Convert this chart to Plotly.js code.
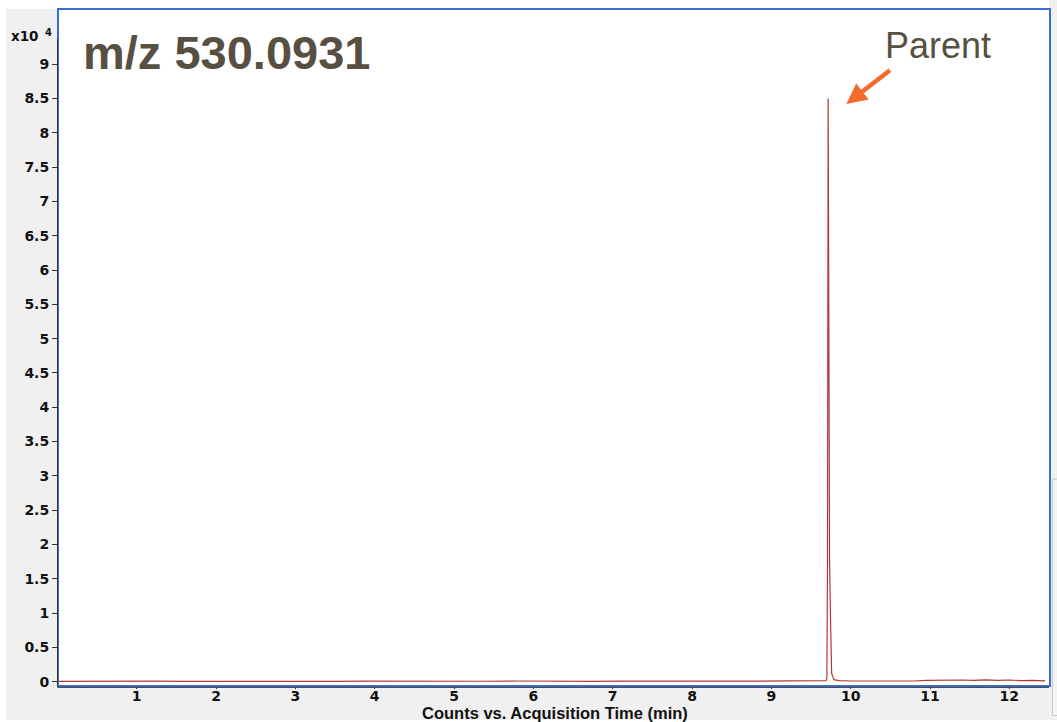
<!DOCTYPE html>
<html>
<head>
<meta charset="utf-8">
<script src="https://cdn.plot.ly/plotly-3.0.1.min.js"></script>
<style>
  html, body { margin: 0; padding: 0; background: #ffffff; }
  #chart { width: 1057px; height: 722px; }
</style>
</head>
<body>
<div id="chart"></div>
<script>
// Extracted ion chromatogram, m/z 530.0931
// Acquisition time (min)
const acqTime = [
  0.02, 0.35, 0.65, 0.72, 1.0, 1.25, 1.6, 2.0, 2.15, 2.5, 2.78, 3.1, 3.5, 3.9,
  4.3, 4.6, 5.0, 5.35, 5.8, 6.05, 6.4, 6.75, 7.1, 7.45, 7.7, 7.95, 8.3, 8.6,
  8.9, 9.2, 9.45, 9.62, 9.69, 9.700, 9.708, 9.716, 9.724, 9.734, 9.746, 9.760,
  9.790, 9.85, 10.0, 10.25, 10.5, 10.8, 10.95, 11.1, 11.25, 11.4, 11.55, 11.7,
  11.85, 12.0, 12.15, 12.3, 12.45
];
// Counts (x10^4)
const counts = [
  0.004, 0.006, 0.010, 0.008, 0.005, 0.009, 0.004, 0.006, 0.010, 0.005, 0.009,
  0.004, 0.006, 0.008, 0.005, 0.006, 0.004, 0.007, 0.010, 0.006, 0.009, 0.005,
  0.008, 0.006, 0.009, 0.012, 0.007, 0.010, 0.008, 0.011, 0.009, 0.010, 0.015,
  0.05, 1.8, 8.5, 5.3, 1.75, 0.9, 0.12, 0.03, 0.015, 0.010, 0.008, 0.012, 0.010,
  0.018, 0.022, 0.015, 0.025, 0.018, 0.028, 0.020, 0.025, 0.015, 0.020, 0.012
];

const xTicks = [1, 2, 3, 4, 5, 6, 7, 8, 9, 10, 11, 12];
const yTicks = [0, 0.5, 1, 1.5, 2, 2.5, 3, 3.5, 4, 4.5, 5, 5.5, 6, 6.5, 7, 7.5, 8, 8.5, 9];
const yTickText = yTicks.map(v => String(v));

const chartTitle = 'm/z 530.0931';
const peakLabel = 'Parent';
const peakTime = 9.716;
const peakCount = 8.5;
const xTitle = 'Counts vs. Acquisition Time (min)';
const scaleBase = 'x10';
const scaleExp = '4';

const tickFont = { family: 'DejaVu Sans, Verdana, sans-serif', size: 14, color: '#111111', weight: 'bold' };
const frameBlue = '#3a6fd0';

const trace = {
  x: acqTime,
  y: counts,
  type: 'scatter',
  mode: 'lines',
  line: { color: '#b43838', width: 1.2 },
  hoverinfo: 'x+y'
};

const layout = {
  width: 1057,
  height: 722,
  margin: { l: 59, r: 8, t: 10, b: 37 },
  paper_bgcolor: '#f0f0f0',
  plot_bgcolor: '#ffffff',
  showlegend: false,
  xaxis: {
    range: [0.02, 12.5],
    tickvals: xTicks,
    ticktext: xTicks.map(String),
    ticks: 'outside',
    ticklen: 2,
    ticklabelstandoff: -5,
    tickcolor: '#333333',
    tickfont: tickFont,
    showgrid: false,
    zeroline: false,
    showline: true,
    linecolor: frameBlue,
    linewidth: 2,
    mirror: true
  },
  yaxis: {
    range: [-0.048, 9.79],
    tickvals: yTicks,
    ticktext: yTickText,
    ticks: 'outside',
    ticklen: 5,
    tickcolor: '#333333',
    tickfont: tickFont,
    showgrid: false,
    zeroline: false,
    showline: true,
    linecolor: frameBlue,
    linewidth: 2,
    mirror: true
  },
  shapes: [
    // white margin strips around the grey panel
    { type: 'rect', xref: 'paper', yref: 'paper', x0: -0.07, x1: -0.0535, y0: -0.06, y1: 1.02,
      fillcolor: '#ffffff', line: { width: 0 }, layer: 'below' },
    { type: 'rect', xref: 'paper', yref: 'paper', x0: -0.07, x1: 1.0, y0: 1.0015, y1: 1.02,
      fillcolor: '#ffffff', line: { width: 0 }, layer: 'below' },
    { type: 'rect', xref: 'paper', yref: 'paper', x0: -0.07, x1: 1.01, y0: -0.06, y1: -0.0519,
      fillcolor: '#ffffff', line: { width: 0 }, layer: 'below' },
    // dark inner axis lines
    { type: 'line', xref: 'paper', yref: 'paper', x0: -0.0015, x1: -0.0015, y0: -0.003, y1: 0.958,
      line: { color: '#333333', width: 1 } },
    { type: 'line', xref: 'paper', yref: 'paper', x0: -0.0015, x1: 1.0, y0: -0.0035, y1: -0.0035,
      line: { color: '#333333', width: 1 } },
    // scroll panel at the right edge
    { type: 'rect', xref: 'paper', yref: 'paper', x0: 1.0035, x1: 1.012, y0: -0.045, y1: 0.305,
      fillcolor: '#f4f4f4', line: { color: '#c8c8c8', width: 1 } }
  ],
  annotations: [
    { text: chartTitle, xref: 'paper', yref: 'paper', x: 0.0222, y: 0.9365,
      xanchor: 'left', yanchor: 'middle', showarrow: false,
      font: { family: 'Liberation Sans, Arial, sans-serif', size: 47, color: '#575042', weight: 'bold' } },
    { text: scaleBase, xref: 'paper', yref: 'paper', x: -0.0505, y: 0.9615,
      xanchor: 'left', yanchor: 'middle', showarrow: false,
      font: { family: 'DejaVu Sans, Verdana, sans-serif', size: 13.5, color: '#111111', weight: 'bold' } },
    { text: scaleExp, xref: 'paper', yref: 'paper', x: -0.0105, y: 0.967,
      xanchor: 'center', yanchor: 'middle', showarrow: false,
      font: { family: 'DejaVu Sans, Verdana, sans-serif', size: 10, color: '#111111', weight: 'bold' } },
    { text: xTitle, xref: 'paper', yref: 'paper', x: 0.501, y: -0.0415,
      xanchor: 'center', yanchor: 'middle', showarrow: false,
      font: { family: 'Liberation Sans, Arial, sans-serif', size: 16.5, color: '#111111', weight: 'bold' } },
    { text: peakLabel, xref: 'paper', yref: 'paper', x: 0.8879, y: 0.9467,
      xanchor: 'center', yanchor: 'middle', showarrow: false,
      font: { family: 'Liberation Sans, Arial, sans-serif', size: 36, color: '#575042' } },
    // arrow pointing at the apex
    { text: '', x: peakTime + 0.23, y: peakCount - 0.08, xref: 'x', yref: 'y',
      showarrow: true, arrowhead: 2, arrowsize: 0.9, arrowwidth: 4.5, arrowcolor: '#f26a2c',
      ax: 45, ay: -35, standoff: 0 }
  ]
};

Plotly.newPlot('chart', [trace], layout, { displayModeBar: false, staticPlot: true });
</script>
</body>
</html>
